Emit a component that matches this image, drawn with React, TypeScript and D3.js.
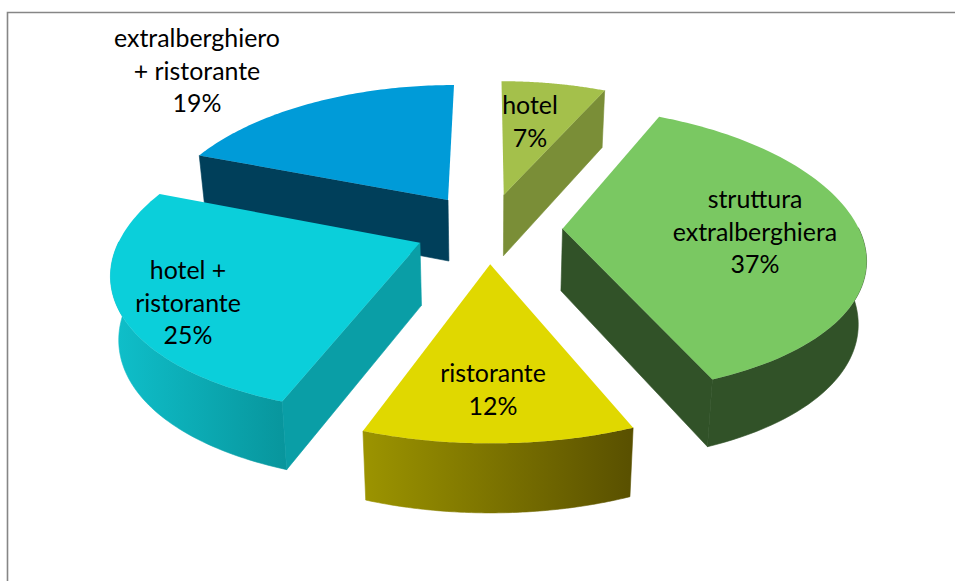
import React from "react";
import * as d3 from "d3";

const names = ["hotel", "struttura extralberghiera", "ristorante", "hotel + ristorante", "extralberghiero + ristorante"];
const shares = [6.9, 36.9, 11.7, 25.3, 19.2];
const percentLabels = ["7%", "37%", "12%", "25%", "19%"];
const labelLines = [["hotel"], ["struttura", "extralberghiera"], ["ristorante"], ["hotel +", "ristorante"], ["extralberghiero", "+ ristorante"]];
const topColors = ["#a4c04b", "#7ac862", "#e0d800", "#0bcfda", "#009bd8"];
const cutColors = ["#7a8e37", "#315228", "#8a8200", "#0a9ea6", "#003f5a"];
const wallFrom = ["#7a8e37", "#315228", "#9c9400", "#0fc0cb", "#003f5a"];
const wallTo = ["#7a8e37", "#315228", "#595000", "#08959c", "#003f5a"];

const W = 955, H = 581;
const cx = 488.5, cy = 228, rx = 296, ry = 140, kx = 0.18, ky = 0.15, depth = 62, explode = 0.25;
const labelAt = [[530, 104], [755, 198], [493, 372], [188, 269], [197, 37]];
const lineGap = 32.7;

function project(X: number, Y: number, z: number): [number, number] {
  const sx = 1 / (1 + kx * Y), sy = 1 / (1 + ky * Y);
  const px = X * rx * sx * (1 - 0.022 * z);
  const py = -Y * ry * sy + z * depth * Math.pow(sx, 0.45);
  return [cx + px, cy + py];
}

const pieGen = d3.pie<number>().sort(null).startAngle(0).endAngle(2 * Math.PI);
const line = d3.line();
const close = (pts: [number, number][]) => line(pts)! + "Z";

export default function App() {
  const arcs = pieGen(shares);
  const slices = arcs.map((a, i) => {
    const mid = (a.startAngle + a.endAngle) / 2;
    const ox = Math.sin(mid) * explode, oy = Math.cos(mid) * explode;
    const angles = d3.range(0, 81).map((t) => a.startAngle + ((a.endAngle - a.startAngle) * t) / 80);
    const P = (ang: number, z: number) => project(ox + Math.sin(ang), oy + Math.cos(ang), z);
    const A = (z: number) => project(ox, oy, z);
    const top: [number, number][] = [A(0), ...angles.map((g) => P(g, 0))];
    const front = angles.filter((g) => Math.cos(g) < 0.02);
    const wall: [number, number][] = front.length
      ? [...front.map((g) => P(g, 0)), ...front.slice().reverse().map((g) => P(g, 1))]
      : [];
    const quad = (g: number): [number, number][] => [A(0), P(g, 0), P(g, 1), A(1)];
    const showStart = Math.sin(a.startAngle) < -0.01;
    const showEnd = Math.sin(a.endAngle) > 0.01;
    const xs = wall.map((p) => p[0]);
    return {
      i, top, wall,
      start: showStart ? quad(a.startAngle) : null,
      end: showEnd ? quad(a.endAngle) : null,
      x0: xs.length ? d3.min(xs)! : 0,
      x1: xs.length ? d3.max(xs)! : 1,
    };
  });
  const order = [4, 0, 3, 1, 2];

  return (
    <svg width={W} height={H} viewBox={`0 0 ${W} ${H}`} style={{ position: "fixed", left: 0, top: 0, background: "#fff" }}>
      <defs>
        {slices.map((s) => (
          <linearGradient key={s.i} id={`wall${s.i}`} gradientUnits="userSpaceOnUse" x1={s.x0} x2={s.x1} y1={0} y2={0}>
            <stop offset="0" stopColor={wallFrom[s.i]} />
            <stop offset="1" stopColor={wallTo[s.i]} />
          </linearGradient>
        ))}
      </defs>
      <path d="M7.5 581V12.5H955" fill="none" stroke="#868686" strokeWidth={1.6} />
      {order.map((i) => {
        const s = slices[i];
        return (
          <g key={names[i]}>
            {s.wall.length > 0 && <path d={close(s.wall)} fill={`url(#wall${i})`} stroke={`url(#wall${i})`} strokeWidth={0.6} />}
            {s.start && <path d={close(s.start)} fill={cutColors[i]} stroke={cutColors[i]} strokeWidth={0.6} />}
            {s.end && <path d={close(s.end)} fill={cutColors[i]} stroke={cutColors[i]} strokeWidth={0.6} />}
            <path d={close(s.top)} fill={topColors[i]} />
          </g>
        );
      })}
      <g fontFamily="Lato, Carlito, sans-serif" fontSize={24.9} fill="#000" textAnchor="middle">
        {labelLines.map((lines, i) => (
          <text key={names[i]} x={labelAt[i][0]} y={labelAt[i][1]} dominantBaseline="central">
            {[...lines, percentLabels[i]].map((t, j) => (
              <tspan key={j} x={labelAt[i][0]} y={labelAt[i][1] + j * lineGap}>{t}</tspan>
            ))}
          </text>
        ))}
      </g>
    </svg>
  );
}
